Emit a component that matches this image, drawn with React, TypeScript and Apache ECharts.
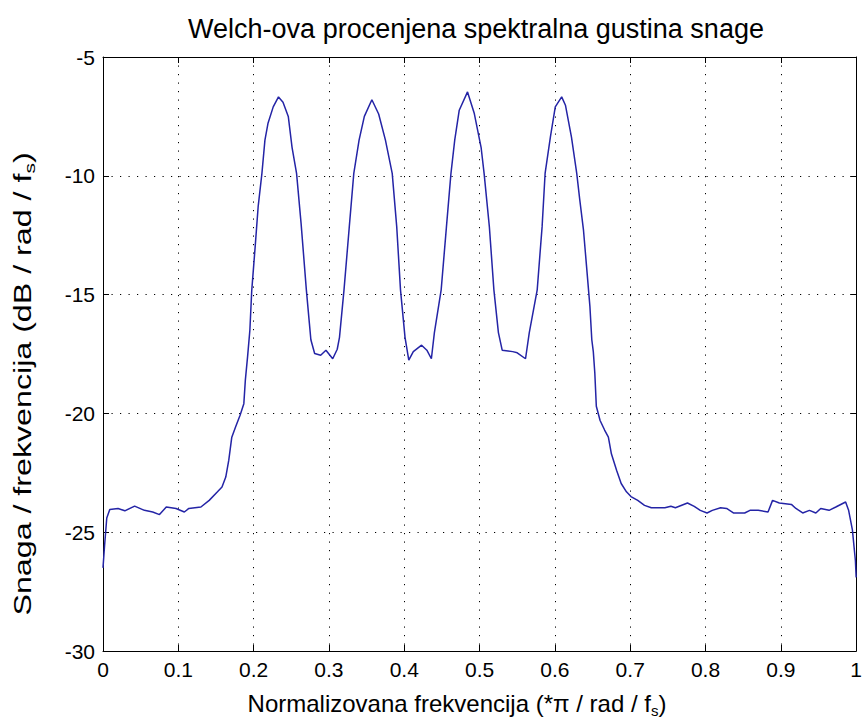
import React, { useEffect, useRef } from "react";
import * as echarts from "echarts";

const freq = [
  0.0, 0.002, 0.005, 0.009, 0.02, 0.029, 0.042, 0.055, 0.066, 0.075, 0.084, 0.097, 0.108, 0.114, 0.13,
  0.141, 0.152, 0.158, 0.163, 0.167, 0.171, 0.176, 0.182, 0.187, 0.189, 0.192, 0.195, 0.1975, 0.202,
  0.206, 0.211, 0.215, 0.219, 0.226, 0.233, 0.239, 0.246, 0.251, 0.257, 0.263, 0.27, 0.274, 0.276,
  0.281, 0.289, 0.296, 0.305, 0.311, 0.314, 0.32, 0.327, 0.333, 0.34, 0.347, 0.357, 0.366, 0.375,
  0.384, 0.39, 0.395, 0.401, 0.406, 0.412, 0.423, 0.43, 0.436, 0.44, 0.449, 0.456, 0.462, 0.467,
  0.473, 0.484, 0.493, 0.502, 0.506, 0.513, 0.519, 0.525, 0.53, 0.544, 0.55, 0.561, 0.566, 0.5765,
  0.583, 0.587, 0.594, 0.6005, 0.609, 0.614, 0.622, 0.629, 0.633, 0.638, 0.642, 0.6465, 0.649, 0.651,
  0.653, 0.655, 0.66, 0.666, 0.671, 0.675, 0.682, 0.688, 0.695, 0.701, 0.71, 0.719, 0.728, 0.746,
  0.754, 0.76, 0.776, 0.785, 0.793, 0.802, 0.809, 0.82, 0.828, 0.837, 0.852, 0.859, 0.87, 0.883,
  0.889, 0.898, 0.914, 0.92, 0.929, 0.938, 0.9465, 0.953, 0.964, 0.973, 0.986, 0.99, 0.995, 0.999, 1.0,
];

const psd = [
  -26.5, -25.6, -24.4, -24.04, -24.0, -24.1, -23.9, -24.08, -24.15, -24.26, -23.94, -24.0, -24.15, -24.0, -23.94,
  -23.66, -23.3, -23.1, -22.68, -21.97, -21.0, -20.57, -20.08, -19.59, -18.6, -17.6, -16.5, -14.82, -13.0,
  -11.3, -9.9, -8.5, -7.8, -7.1, -6.68, -6.9, -7.5, -8.8, -9.9, -12.0, -14.8, -16.2, -16.9,
  -17.48, -17.55, -17.34, -17.7, -17.3, -16.8, -14.8, -12.15, -9.9, -8.5, -7.5, -6.8, -7.4, -8.5,
  -9.9, -12.15, -14.8, -16.8, -17.76, -17.4, -17.13, -17.34, -17.7, -16.6, -14.8, -12.15, -9.9, -8.5,
  -7.24, -6.47, -7.38, -8.8, -9.9, -12.15, -14.8, -16.6, -17.34, -17.4, -17.45, -17.7, -16.6, -14.8,
  -12.15, -9.9, -8.37, -7.1, -6.68, -7.03, -8.37, -9.9, -11.0, -12.3, -13.8, -15.5, -16.9, -17.4,
  -18.3, -19.7, -20.3, -20.7, -21.0, -21.7, -22.4, -22.95, -23.3, -23.5, -23.66, -23.87, -23.97, -23.97,
  -23.91, -23.97, -23.77, -23.91, -24.08, -24.19, -24.08, -23.97, -24.0, -24.19, -24.19, -24.08, -24.08, -24.15,
  -23.66, -23.77, -23.83, -24.0, -24.19, -24.08, -24.19, -24.0, -24.08, -23.94, -23.73, -24.08, -24.9, -26.2, -26.9,
];

const xTickLabels = ["0", "0.1", "0.2", "0.3", "0.4", "0.5", "0.6", "0.7", "0.8", "0.9", "1"];
const yTickLabels = ["-30", "-25", "-20", "-15", "-10", "-5"];

const titleText = "Welch-ova procenjena spektralna gustina snage";
const xLabelText = "Normalizovana frekvencija (*π / rad / f{sub|s})";
const yLabelText = "Snaga / frekvencija (dB / rad / f{sub|s})";

const FONT = "'Liberation Sans', Arial, Helvetica, sans-serif";

export default function App() {
  const ref = useRef<HTMLDivElement>(null);
  useEffect(() => {
    if (!ref.current) return;
    const chart = echarts.init(ref.current, undefined, { renderer: "svg" });
    const gridLine = { show: true, lineStyle: { color: "#000", width: 1, type: [1.2, 7.3] as any } };
    const axisLine = { show: true, onZero: false, lineStyle: { color: "#000", width: 1 } };
    const tick = { show: true, inside: true, length: 6, lineStyle: { color: "#000", width: 1 } };
    const xLab = (v: number) => xTickLabels[Math.round(v * 10)] ?? "";
    const yLab = (v: number) => yTickLabels[Math.round((v + 30) / 5)] ?? "";
    const subStyle = (size: number, drop: number) => ({
      fontSize: size,
      fontFamily: FONT,
      fill: "#000",
      color: "#000",
      padding: [drop, 0, 0, 0],
    });
    chart.setOption({
      animation: false,
      backgroundColor: "#fff",
      textStyle: { fontFamily: FONT },
      grid: { left: 103, right: 1, top: 57, bottom: 72, containLabel: false },
      graphic: [
        {
          type: "text",
          x: 476,
          y: 15,
          style: { text: titleText, textAlign: "center", fontFamily: FONT, fontSize: 27, fill: "#000" },
        },
        {
          type: "text",
          x: 457,
          y: 703,
          style: {
            text: xLabelText,
            textAlign: "center",
            textVerticalAlign: "middle",
            fontFamily: FONT,
            fontSize: 24,
            fill: "#000",
            rich: { sub: subStyle(15, 15) },
          },
        },
        {
          type: "text",
          x: 23,
          y: 384,
          rotation: Math.PI / 2,
          scaleX: 1.4,
          style: {
            text: yLabelText,
            textAlign: "center",
            textVerticalAlign: "middle",
            fontFamily: FONT,
            fontSize: 23,
            fill: "#000",
            rich: { sub: subStyle(15, 14) },
          },
        },
      ],
      xAxis: [
        {
          type: "value",
          min: 0,
          max: 1,
          interval: 0.1,
          position: "bottom",
          axisLine,
          axisTick: tick,
          splitLine: gridLine,
          axisLabel: { formatter: xLab, color: "#000", fontSize: 21, margin: 8, fontFamily: FONT },
        },
        {
          type: "value",
          min: 0,
          max: 1,
          interval: 0.1,
          position: "top",
          axisLine,
          axisTick: tick,
          splitLine: { show: false },
          axisLabel: { show: false },
        },
      ],
      yAxis: [
        {
          type: "value",
          min: -30,
          max: -5,
          interval: 5,
          position: "left",
          axisLine,
          axisTick: tick,
          splitLine: gridLine,
          axisLabel: { formatter: yLab, color: "#000", fontSize: 21, margin: 8, fontFamily: FONT },
        },
        {
          type: "value",
          min: -30,
          max: -5,
          interval: 5,
          position: "right",
          axisLine,
          axisTick: tick,
          splitLine: { show: false },
          axisLabel: { show: false },
        },
      ],
      series: [
        {
          type: "line",
          xAxisIndex: 0,
          yAxisIndex: 0,
          data: freq.map((f, i) => [f, psd[i]]),
          showSymbol: false,
          symbol: "none",
          lineStyle: { color: "#2424a6", width: 1.5 },
        },
      ],
    });
    return () => chart.dispose();
  }, []);
  return <div ref={ref} style={{ position: "absolute", left: 0, top: 0, width: 865, height: 723 }} />;
}
